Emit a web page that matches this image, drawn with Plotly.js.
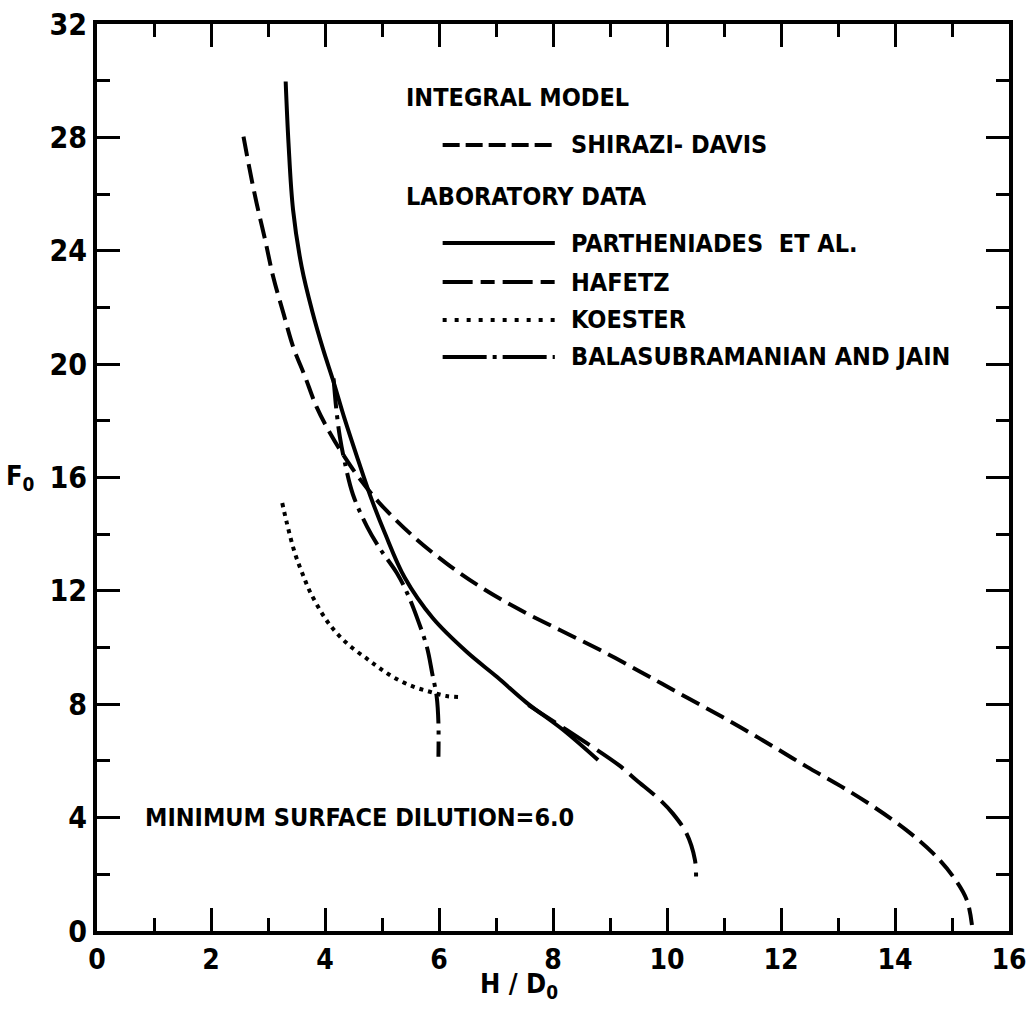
<!DOCTYPE html>
<html>
<head>
<meta charset="utf-8">
<script src="https://cdn.plot.ly/plotly-3.0.1.min.js"></script>
<style>html,body{margin:0;padding:0;background:#fff;}#chart{width:1027px;height:1015px;}</style>
</head>
<body>
<div id="chart"></div>
<script>
// ---- data (x = H/D0, y = F0) ----
const shiraziX = [2.57, 2.68, 2.80, 2.95, 3.09, 3.27, 3.44, 3.65, 3.85, 4.09, 4.32, 4.61, 4.96, 5.55, 6.13, 6.72, 7.42, 8.12, 8.82, 9.53, 10.11, 10.70, 11.28, 11.87, 12.45, 13.04, 13.62, 14.20, 14.67, 15.02, 15.26, 15.35];
const shiraziY = [28.03, 26.85, 25.68, 24.38, 23.09, 21.8, 20.62, 19.56, 18.5, 17.56, 16.8, 15.95, 15.09, 13.92, 12.97, 12.15, 11.33, 10.62, 9.92, 9.15, 8.5, 7.85, 7.2, 6.5, 5.8, 5.12, 4.39, 3.56, 2.74, 1.92, 1.09, 0.21];

const parthX = [3.31, 3.36, 3.44, 3.59, 3.77, 3.97, 4.14, 4.35, 4.58, 4.79, 5.05, 5.40, 5.89, 6.49, 7.02, 7.54, 8.18, 8.79];
const parthY = [29.97, 27.79, 25.44, 23.44, 21.91, 20.5, 19.44, 18.03, 16.62, 15.38, 14.04, 12.46, 11.04, 9.84, 8.96, 8.05, 7.09, 6.03];

const hafetzX = [7.57, 8.24, 9.15, 9.46, 9.88, 10.10, 10.34, 10.49, 10.51];
const hafetzY = [7.97, 7.09, 5.86, 5.33, 4.62, 4.15, 3.45, 2.51, 1.92];

const koesterX = [3.25, 3.33, 3.47, 3.60, 3.74, 4.00, 4.21, 4.47, 4.74, 4.96, 5.23, 5.55, 5.84, 6.13, 6.40];
const koesterY = [15.1, 14.4, 13.34, 12.63, 11.96, 11.04, 10.5, 10.0, 9.6, 9.27, 8.92, 8.62, 8.44, 8.29, 8.25];

const balaX = [4.15, 4.20, 4.26, 4.34, 4.49, 4.74, 4.96, 5.26, 5.44, 5.63, 5.79, 5.88, 5.96, 5.99, 5.99];
const balaY = [19.5, 18.38, 17.44, 16.6, 15.4, 14.26, 13.5, 12.63, 11.93, 10.97, 10.0, 9.1, 8.26, 7.33, 6.15];

const seriesNames = ['SHIRAZI- DAVIS', 'PARTHENIADES  ET AL.', 'HAFETZ', 'KOESTER', 'BALASUBRAMANIAN AND JAIN'];
const groupHeadings = ['INTEGRAL MODEL', 'LABORATORY DATA'];
const xTickVals = [0, 2, 4, 6, 8, 10, 12, 14, 16];
const yTickVals = [0, 4, 8, 12, 16, 20, 24, 28, 32];
const noteText = 'MINIMUM SURFACE DILUTION=6.0';
const xTitle = 'H / D<sub>0</sub>';
const yTitle = 'F<sub>0</sub>';

// ---- styling ----
const FONT = 'DejaVu Sans Condensed, Liberation Sans Narrow, Arial Narrow, sans-serif';
const INK = '#000000';
const curveDash = ['20px,8px', 'solid', '32px,9px', '4px,5px', '30px,7px,4px,7px'];
const legendDash = ['17px,6px', 'solid', '30px,8px,14px,8px', '4px,8px', '44px,6px,4px,6px'];

const xs = [shiraziX, parthX, hafetzX, koesterX, balaX];
const ys = [shiraziY, parthY, hafetzY, koesterY, balaY];

const traces = xs.map((x, i) => ({
  type: 'scatter', mode: 'lines', x: x, y: ys[i], name: seriesNames[i],
  line: {color: INK, width: 4, dash: curveDash[i], shape: 'spline', smoothing: 1},
  hoverinfo: 'skip', showlegend: false
}));

// custom legend (placed in paper coordinates)
const legendRowY = [0.8666, 0.7585, 0.7155, 0.6737, 0.6329];
const headingY = [0.9195, 0.8093];
const shapes = [];
const annotations = [];
const txtFont = {family: FONT, size: 25, weight: 'bold', color: INK};
seriesNames.forEach((n, i) => {
  shapes.push({type: 'line', xref: 'paper', yref: 'paper', x0: 0.379, x1: 0.502, y0: legendRowY[i], y1: legendRowY[i],
    line: {color: INK, width: 4, dash: legendDash[i]}});
  annotations.push({xref: 'paper', yref: 'paper', x: 0.517, y: legendRowY[i], xanchor: 'left', yanchor: 'middle',
    text: n, showarrow: false, font: txtFont});
});
groupHeadings.forEach((h, i) => {
  annotations.push({xref: 'paper', yref: 'paper', x: 0.337, y: headingY[i], xanchor: 'left', yanchor: 'middle',
    text: h, showarrow: false, font: txtFont});
});
annotations.push({xref: 'x', yref: 'y', x: 0.8, y: 4.0, xanchor: 'left', yanchor: 'middle', text: noteText,
  showarrow: false, font: txtFont});
// axis titles as annotations (y title is horizontal in the reference)
annotations.push({xref: 'paper', yref: 'paper', x: -0.066, y: 0.5, xanchor: 'right', yanchor: 'middle',
  text: yTitle, showarrow: false, font: {family: FONT, size: 27, weight: 'bold', color: INK}});
annotations.push({xref: 'paper', yref: 'paper', x: 0.463, y: -0.06, xanchor: 'center', yanchor: 'middle',
  text: xTitle, showarrow: false, font: {family: FONT, size: 27, weight: 'bold', color: INK}});

const axisCommon = {
  showline: true, linecolor: INK, linewidth: 4, mirror: 'ticks',
  ticks: 'inside', ticklen: 23, tickwidth: 3, tickcolor: INK,
  showgrid: false, zeroline: false, fixedrange: true
};

const layout = {
  width: 1027, height: 1015,
  margin: {l: 97, r: 18, t: 24, b: 84, pad: 0},
  paper_bgcolor: '#ffffff', plot_bgcolor: '#ffffff',
  showlegend: false,
  xaxis: Object.assign({}, axisCommon, {
    range: [0, 16], tickmode: 'array', tickvals: xTickVals, ticktext: xTickVals.map(String),
    tickfont: {family: FONT, size: 28, weight: 'bold', color: INK},
    minor: {dtick: 1, ticks: 'inside', ticklen: 13, tickwidth: 3, tickcolor: INK, showgrid: false}
  }),
  yaxis: Object.assign({}, axisCommon, {
    range: [0, 32], tickmode: 'array', tickvals: yTickVals, ticktext: yTickVals.map(String),
    tickfont: {family: FONT, size: 30, weight: 'bold', color: INK},
    minor: {dtick: 2, ticks: 'inside', ticklen: 13, tickwidth: 3, tickcolor: INK, showgrid: false},
    ticklabelstandoff: 0
  }),
  shapes: shapes,
  annotations: annotations
};

Plotly.newPlot('chart', traces, layout, {displayModeBar: false, staticPlot: true});
</script>
</body>
</html>
